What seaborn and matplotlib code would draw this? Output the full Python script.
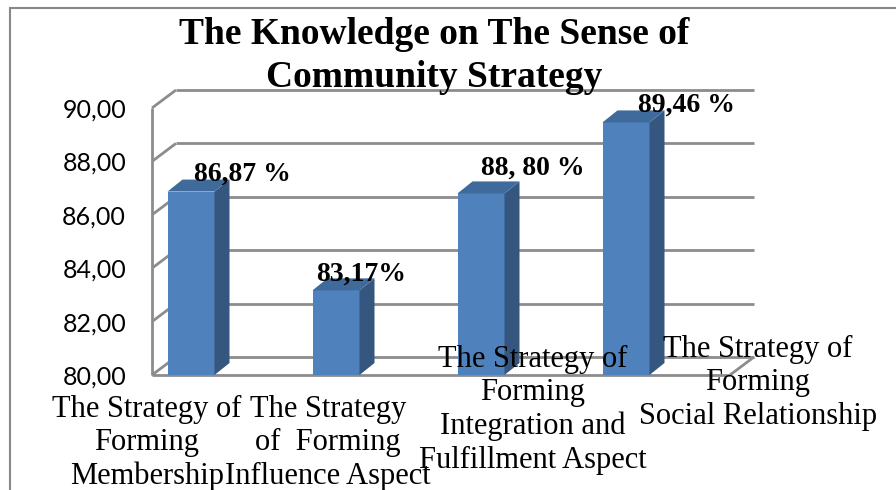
import matplotlib
matplotlib.use("Agg")
import matplotlib.pyplot as plt
from matplotlib.patches import Polygon, Rectangle
import pandas as pd
import seaborn as sns

categories = ["Membership", "Influence", "Integration", "Social"]
values = [86.87, 83.17, 86.80, 89.46]
value_labels = ["86,87 %", "83,17%", "88, 80 %", "89,46 %"]
category_labels = [
    "The Strategy of\nForming\nMembership",
    "The Strategy\nof  Forming\nInfluence Aspect",
    "The Strategy of\nForming\nIntegration and\nFulfillment Aspect",
    "The Strategy of\nForming\nSocial Relationship",
]
yticks = [80, 82, 84, 86, 88, 90]
ytick_labels = ["80,00", "82,00", "84,00", "86,00", "88,00", "90,00"]
title = "The Knowledge on The Sense of\nCommunity Strategy"

FRONT = "#4F81BD"
SIDE = "#35577F"
TOP = "#3F6A9C"
GRID = "#8C8C8C"

sns.set_style("white")
plt.rcParams["text.color"] = "black"
W, H = 896, 490
fig = plt.figure(figsize=(W / 100, H / 100), dpi=100)
# axes = front plane of the pseudo-3D box, one category = 145 px
ax = fig.add_axes([118.5 / W, (H - 375) / H, 580 / W, 267 / H])
df = pd.DataFrame({"cat": categories, "val": values})
sns.barplot(data=df, x="cat", y="val", width=47 / 145, color=FRONT,
            saturation=1, ax=ax, zorder=3, linewidth=0)
ax.set_xlim(-0.5, 3.5)
ax.set_ylim(80, 90)
for s in ax.spines.values():
    s.set_visible(False)
ax.set_xticks([])
ax.set_xlabel("")
ax.set_ylabel("")
ax.set_yticks(yticks)
ax.set_yticklabels(ytick_labels, fontfamily="Lato", fontsize=18, color="black")
ax.tick_params(axis="y", length=0, pad=-5.4)

# box geometry in data units
px_x = 1 / 145
px_y = 10 / 267
x0 = -0.5 + 33.5 * px_x
x1 = -0.5 + 611.5 * px_x
wdx, wdy = 24 * px_x, 18 * px_y
bdx, bdy = 15 * px_x, 12 * px_y

kw = dict(color=GRID, lw=2, clip_on=False, zorder=1, solid_capstyle="butt")
for v in yticks:
    ax.plot([x0, x0 + wdx], [v, v + wdy], **kw)
    ax.plot([x0 + wdx, x1 + wdx], [v + wdy, v + wdy], **kw)
ax.plot([x0, x1], [80, 80], **kw)
ax.plot([x1, x1 + wdx], [80, 80 + wdy], **kw)
ax.plot([x0, x0], [80, 90], **kw)

for p in ax.patches:
    bx, bw, top = p.get_x(), p.get_width(), p.get_height()
    side = Polygon([(bx + bw, 80), (bx + bw + bdx, 80 + bdy),
                    (bx + bw + bdx, top + bdy), (bx + bw, top)],
                   closed=True, fc=SIDE, ec="none", zorder=3, clip_on=False)
    cap = Polygon([(bx, top), (bx + bw, top), (bx + bw + bdx, top + bdy),
                   (bx + bdx, top + bdy)],
                  closed=True, fc=TOP, ec="none", zorder=3, clip_on=False)
    ax.add_patch(side)
    ax.add_patch(cap)

label_offsets = [(51, 17), (25, 16), (52, 25), (60, 17)]
for i, (txt, v) in enumerate(zip(value_labels, values)):
    ax.annotate(txt, xy=(i, v), xytext=label_offsets[i], textcoords="offset pixels",
                ha="center", va="center", fontfamily="Liberation Serif",
                fontweight="bold", fontsize=20, zorder=5, annotation_clip=False)

cat_offsets = [(-44, -20), (-8, -20), (52, 30), (132, 40)]
for i, txt in enumerate(category_labels):
    ax.annotate(txt, xy=(i, 80), xytext=cat_offsets[i], textcoords="offset pixels",
                ha="center", va="top", multialignment="center",
                fontfamily="Liberation Serif", fontsize=22, linespacing=1.2,
                zorder=5, annotation_clip=False)

fig.text(434 / W, 1 - 17 / H, title, ha="center", va="top",
         fontfamily="Liberation Serif", fontweight="bold", fontsize=27,
         linespacing=1.3)

fig.add_artist(Rectangle((10 / W, -0.5), 2, (H - 8) / H + 0.5,
                         transform=fig.transFigure, fill=False,
                         ec="#888888", lw=1.5))

fig.savefig("out.png", dpi=100)
